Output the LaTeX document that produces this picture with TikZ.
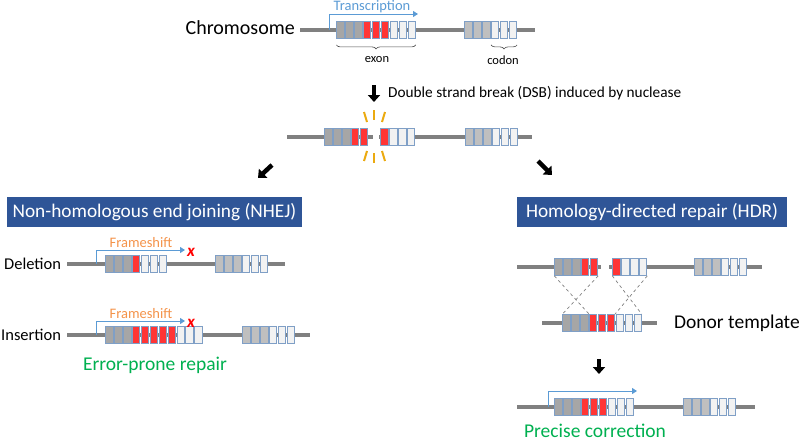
\documentclass[tikz,border=0pt]{standalone}
\usepackage{fontspec}
\setmainfont{Carlito}
\usetikzlibrary{arrows.meta,decorations.pathreplacing,positioning,calc}

\definecolor{cgray}{HTML}{A6A6A6}
\definecolor{clight}{HTML}{BFBFBF}
\definecolor{cred}{HTML}{FF3535}
\definecolor{cwhite}{HTML}{F2F2F2}
\definecolor{cbord}{HTML}{7F9FC6}
\definecolor{strandgray}{HTML}{808080}
\definecolor{hdrblue}{HTML}{2F5597}
\definecolor{txblue}{HTML}{5B9BD5}
\definecolor{shiftorange}{HTML}{F4934A}
\definecolor{okgreen}{HTML}{00B050}
\definecolor{sparkyellow}{HTML}{EBAA10}

% a run of codon boxes: name, left x, y, fill colours
\newcommand{\codonrow}[4]{%
  \foreach \c [count=\i from 0] in {#4} {
    \node[cbox,fill=\c] (#1\i) at ({#2+\i*8.9+4.45},#3) {};
  }}

\begin{document}
\begin{tikzpicture}[
    x=1pt, y=-1pt,
    inner sep=1pt,
    cbox/.style={rectangle,draw=cbord,line width=0.8pt,
        minimum width=7.4pt,minimum height=17pt,inner sep=0pt},
    strand/.style={strandgray,line width=3.5pt},
    txarrow/.style={txblue,line width=1pt,-{Triangle[width=6pt,length=5pt]}},
    bigarrow/.style={black,line width=4.5pt,
        -{Triangle[width=12pt,length=7pt]}},
    spark/.style={sparkyellow,line width=2pt},
    xdash/.style={strandgray,dashed,line width=0.7pt},
    brace/.style={decorate,decoration={brace,amplitude=4pt,mirror},
        black!70,line width=0.6pt},
    hbox/.style={fill=hdrblue,text=white,minimum height=30pt,
        font=\fontsize{19.3}{22}\selectfont},
    lbl/.style={font=\fontsize{19.5}{22}\selectfont},
    kind/.style={font=\fontsize{16.5}{20}\selectfont},
    small/.style={font=\fontsize{12.5}{14}\selectfont},
    note/.style={font=\fontsize{14.5}{16}\selectfont},
    redx/.style={red,inner sep=0pt,font=\fontsize{17}{18}\selectfont\bfseries\itshape},
    ]
    \useasboundingbox (0,0) rectangle (800,442);

    % chromosome
    \node[lbl,font=\fontsize{20}{22}\selectfont,anchor=east] (chrom) at (296,28) {Chromosome};
    \coordinate (c1) at (300,30);
    \coordinate (c2) at (535,30);
    \draw[strand] (c1) -- (c2);
    \codonrow{ca}{336}{30}{cgray,cgray,cgray,cred,cred,cred,cwhite,cwhite,cwhite}
    \codonrow{cb}{464}{30}{clight,clight,clight,cwhite,cwhite,cwhite}
    \coordinate (t0) at (329,30);
    \draw[txarrow] (t0) |- (418,14);
    \node[note,txblue] (trans) at (372,7) {Transcription};
    \draw[brace] ($(ca0.south west)+(0,6)$) -- ($(ca8.south east)+(0,6)$);
    \node[small] (exon) at (377,60) {exon};
    \draw[brace] ($(cb3.south west)+(0,6)$) -- ($(cb5.south east)+(0,6)$);
    \node[small] (codon) at (503,60) {codon};

    % double strand break
    \coordinate (a1s) at (374,85);
    \coordinate (a1e) at (374,102);
    \draw[bigarrow] (a1s) -- (a1e);
    \node[anchor=west,font=\fontsize{15.3}{18}\selectfont] (dsb) at (387,93) {Double strand break (DSB) induced by nuclease};
    \coordinate (d1) at (287,137);
    \coordinate (d2) at (373,137);
    \coordinate (d3) at (379,137);
    \coordinate (d4) at (532,137);
    \draw[strand] (d1) -- (d2);
    \draw[strand] (d3) -- (d4);
    \codonrow{da}{324}{137}{cgray,cgray,cgray,cred,cred}
    \codonrow{db}{380}{137}{cred,cwhite,cwhite,cwhite}
    \codonrow{dc}{465}{137}{clight,clight,clight,cwhite,cwhite,cwhite}
    \draw[spark] (364,112) -- (367,122);
    \draw[spark] (374,110) -- (374,120);
    \draw[spark] (385,112) -- (382,122);
    \draw[spark] (364,161) -- (367,151);
    \draw[spark] (374,163) -- (374,153);
    \draw[spark] (385,161) -- (382,151);

    % branches
    \coordinate (bl1) at (272,165);
    \coordinate (bl2) at (258,178);
    \draw[bigarrow] (bl1) -- (bl2);
    \coordinate (br1) at (538,161);
    \coordinate (br2) at (552,175);
    \draw[bigarrow] (br1) -- (br2);

    % NHEJ
    \node[hbox,minimum width=295pt] (nhej) at (154.5,212) {Non-homologous end joining (NHEJ)};
    \node[kind,anchor=west] (del) at (3,264) {Deletion};
    \coordinate (l1) at (67,264);
    \coordinate (l2) at (285,264);
    \draw[strand] (l1) -- (l2);
    \codonrow{la}{105}{264}{cgray,cgray,cgray,cred,cwhite,cwhite,cwhite}
    \codonrow{lb}{215}{264}{clight,clight,clight,cwhite,cwhite,cwhite}
    \coordinate (f0) at (96,264);
    \draw[txarrow] (f0) |- (185,250) coordinate (f1);
    \node[note,shiftorange] (fs1) at (141,243) {Frameshift};
    \node[redx] (x1) at (191,252) {x};

    \node[kind,anchor=west] (ins) at (0,335) {Insertion};
    \coordinate (i1) at (67,335);
    \coordinate (i2) at (310,335);
    \draw[strand] (i1) -- (i2);
    \codonrow{ia}{105}{335}{cgray,cgray,cgray,cred,cred,cred,cred,cred,cwhite,cwhite,cwhite}
    \codonrow{ib}{242}{335}{clight,clight,clight,cwhite,cwhite,cwhite}
    \coordinate (g0) at (96,335);
    \draw[txarrow] (g0) |- (185,321) coordinate (g1);
    \node[note,shiftorange] (fs2) at (141,314) {Frameshift};
    \node[redx] (x2) at (191,323) {x};
    \node[lbl,okgreen] (err) at (155,365) {Error-prone repair};

    % HDR
    \node[hbox,minimum width=270pt] (hdr) at (652,212) {Homology-directed repair (HDR)};
    \coordinate (h1) at (517,267);
    \coordinate (h2) at (601,267);
    \coordinate (h3) at (609,267);
    \coordinate (h4) at (762,267);
    \draw[strand] (h1) -- (h2);
    \draw[strand] (h3) -- (h4);
    \codonrow{ha}{554}{267}{cgray,cgray,cgray,cred,cred}
    \codonrow{hb}{612}{267}{cred,cwhite,cwhite,cwhite}
    \codonrow{hc}{694}{267}{clight,clight,clight,cwhite,cwhite,cwhite}

    \coordinate (p1) at (542,323);
    \coordinate (p2) at (657,323);
    \draw[strand] (p1) -- (p2);
    \codonrow{pa}{562}{323}{cgray,cgray,cgray,cred,cred,cred,cwhite,cwhite,cwhite}
    \node[lbl,anchor=west] (donor) at (673,323) {Donor template};
    \draw[xdash] (ha0.south west) -- (pa3.north west);
    \draw[xdash] (ha4.south east) -- (pa0.north west);
    \draw[xdash] (hb0.south west) -- (pa8.north east);
    \draw[xdash] (hb3.south east) -- (pa5.north east);

    \coordinate (a2s) at (599,359);
    \coordinate (a2e) at (599,374);
    \draw[bigarrow] (a2s) -- (a2e);

    \coordinate (q1) at (517,407);
    \coordinate (q2) at (755,407);
    \draw[strand] (q1) -- (q2);
    \codonrow{qa}{554}{407}{cgray,cgray,cgray,cred,cred,cred,cwhite,cwhite,cwhite}
    \codonrow{qb}{683}{407}{clight,clight,clight,cwhite,cwhite,cwhite}
    \coordinate (u0) at (548,407);
    \draw[txarrow] (u0) |- (637,391);
    \node[lbl,okgreen,inner sep=0pt] (prec) at (595,431) {Precise correction};
\end{tikzpicture}
\end{document}
